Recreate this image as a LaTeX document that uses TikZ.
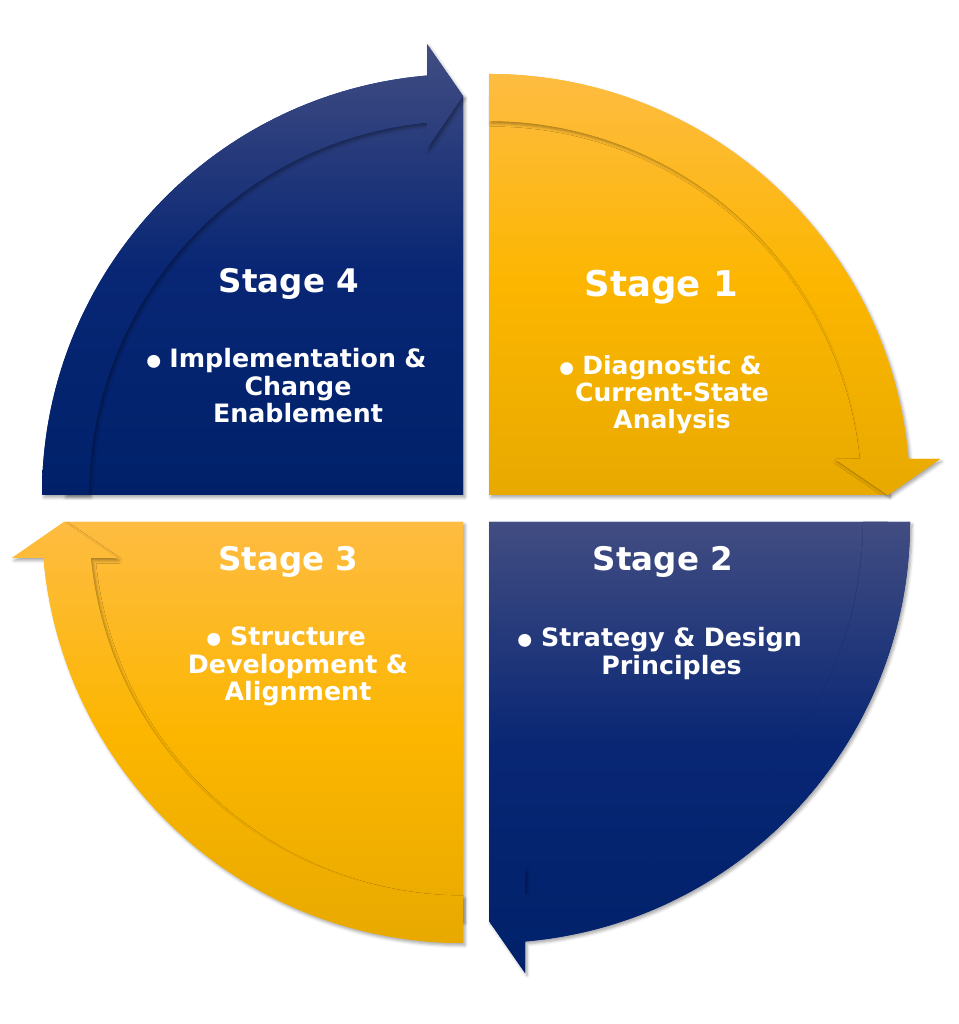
\documentclass[tikz,border=0pt]{standalone}
\usepackage{fontspec}
\setmainfont{DejaVu Sans}
\usetikzlibrary{shadows.blur}
\definecolor{ylTop}{RGB}{254,188,66}
\definecolor{ylMid}{RGB}{252,182,0}
\definecolor{ylBot}{RGB}{232,169,0}
\definecolor{blTop}{RGB}{66,77,130}
\definecolor{blMid}{RGB}{8,38,116}
\definecolor{blBot}{RGB}{0,33,106}
% quarter body: centre x, centre y, rotation
\newcommand{\qbody}[3]{(#1,#2) -- ([shift={(#1,#2)}]90+#3:399) arc[start angle=90+#3, end angle=#3, radius=399] -- cycle}
% curved arrow band
\newcommand{\qarrow}[3]{([shift={(#1,#2)}]90+#3:421) arc[start angle=90+#3, end angle=4.905+#3, radius=421]
 -- ([shift={(#1,#2)}]4.564+#3:452.4)
 -- ([shift={(#1,#2)}]#3:399)
 -- ([shift={(#1,#2)}]5.94+#3:347.9)
 -- ([shift={(#1,#2)}]5.523+#3:374)
 arc[start angle=5.523+#3, end angle=90+#3, radius=374] -- cycle}
\newcommand{\bul}{\llap{\raisebox{-7.5pt}{\scalebox{1.45}{•}}\hspace{4pt}}}
\tikzset{
 shad/.style={blur shadow={shadow xshift=2pt, shadow yshift=-2.5pt, shadow blur radius=3pt, shadow opacity=35}},
 yl/.style={top color=ylTop, bottom color=ylBot, middle color=ylMid},
 bl/.style={top color=blTop, bottom color=blBot, middle color=blMid},
 ttl/.style={text=white, font=\fontsize{32.5}{36}\selectfont\bfseries, anchor=base, inner sep=0pt},
 ttlbig/.style={ttl, font=\fontsize{35.5}{40}\selectfont\bfseries},
 bod/.style={text=white, font=\fontsize{25.3}{27.5}\selectfont\bfseries, anchor=base, inner sep=0pt, text width=320pt, align=center},
 bodsm/.style={bod, font=\fontsize{25}{27}\selectfont\bfseries}
}
\begin{document}
\begin{tikzpicture}[x=1pt,y=1pt]
\useasboundingbox (0,0) rectangle (958,1024);
% ---- Stage 1 (top right, yellow)
\fill[ylMid, shad] \qbody{489}{529}{0};
\begin{scope}\clip \qbody{489}{529}{0}; \shade[yl] (489,529) rectangle (942,951);\end{scope}
\fill[ylMid, shad] \qarrow{489}{529}{0};
\begin{scope}\clip \qarrow{489}{529}{0}; \shade[yl] (489,529) rectangle (942,951);\end{scope}
% ---- Stage 2 (bottom right, blue)
\fill[blMid, shad] \qbody{489}{502}{-90};
\begin{scope}\clip \qbody{489}{502}{-90}; \shade[bl] (489,50) rectangle (912,502);\end{scope}
\fill[blMid, shad] \qarrow{489}{502}{-90};
\begin{scope}\clip \qarrow{489}{502}{-90}; \shade[bl] (489,50) rectangle (912,502);\end{scope}
% ---- Stage 3 (bottom left, yellow)
\fill[ylMid, shad] \qbody{463}{502}{180};
\begin{scope}\clip \qbody{463}{502}{180}; \shade[yl] (10,80) rectangle (463,502);\end{scope}
\fill[ylMid, shad] \qarrow{463}{502}{180};
\begin{scope}\clip \qarrow{463}{502}{180}; \shade[yl] (10,80) rectangle (463,502);\end{scope}
% ---- Stage 4 (top left, blue)
\fill[blMid, shad] \qbody{463}{529}{90};
\begin{scope}\clip \qbody{463}{529}{90}; \shade[bl] (41,529) rectangle (463,980);\end{scope}
\fill[blMid, shad] \qarrow{463}{529}{90};
\begin{scope}\clip \qarrow{463}{529}{90}; \shade[bl] (41,529) rectangle (463,980);\end{scope}
% ---- texts
\node[ttlbig] (t1) at (661.5,727) {Stage 1};
\node[bodsm] (b1) at (672,649) {\bul Diagnostic \&\\Current-State\\Analysis};
\node[ttl] (t2) at (663,453) {Stage 2};
\node[bod] (b2) at (671.5,377) {\bul Strategy \& Design\\Principles};
\node[ttl] (t3) at (288.5,453) {Stage 3};
\node[bod] (b3) at (298,378) {\bul Structure\\Development \&\\Alignment};
\node[ttl] (t4) at (289,731) {Stage 4};
\node[bod] (b4) at (298,656) {\bul Implementation \&\\Change\\Enablement};
\end{tikzpicture}
\end{document}
